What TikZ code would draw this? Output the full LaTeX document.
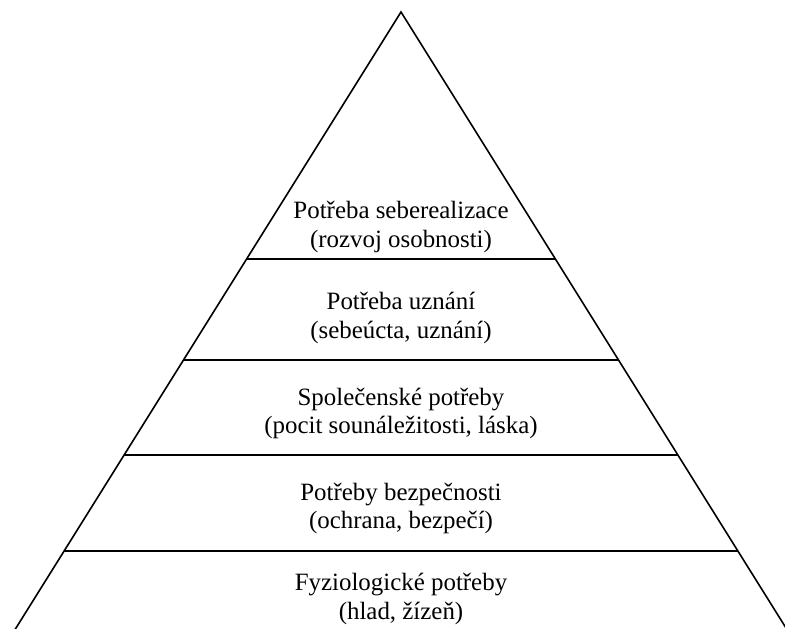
\documentclass[tikz,border=0pt]{standalone}
\usepackage{fontspec}
\setmainfont{Liberation Serif}
\begin{document}
\begin{tikzpicture}[x=1bp,y=-1bp,
  edge/.style={line width=1.6bp,line join=miter},
  level/.style={align=center,font=\fontsize{25}{28.5}\selectfont,inner sep=0pt}]
\useasboundingbox (0,0) rectangle (785,629);
\coordinate (apex) at (401,12);
\coordinate (bl) at (13.5,632);
\coordinate (br) at (788.5,632);
\draw[edge] (bl) -- (apex) -- (br);
\foreach \y in {259,360,455,551}{
  \draw[edge] ({401-0.625*(\y-12)},\y) -- ({401+0.625*(\y-12)},\y);
}
\node[level] (l1) at (401,227) {Potřeba seberealizace\\(rozvoj osobnosti)};
\node[level] (l2) at (401,318) {Potřeba uznání\\(sebeúcta, uznání)};
\node[level] (l3) at (401,413.5) {Společenské potřeby\\(pocit sounáležitosti, láska)};
\node[level] (l4) at (401,508.5) {Potřeby bezpečnosti\\(ochrana, bezpečí)};
\node[level] (l5) at (401,599) {Fyziologické potřeby\\(hlad, žízeň)};
\end{tikzpicture}
\end{document}
